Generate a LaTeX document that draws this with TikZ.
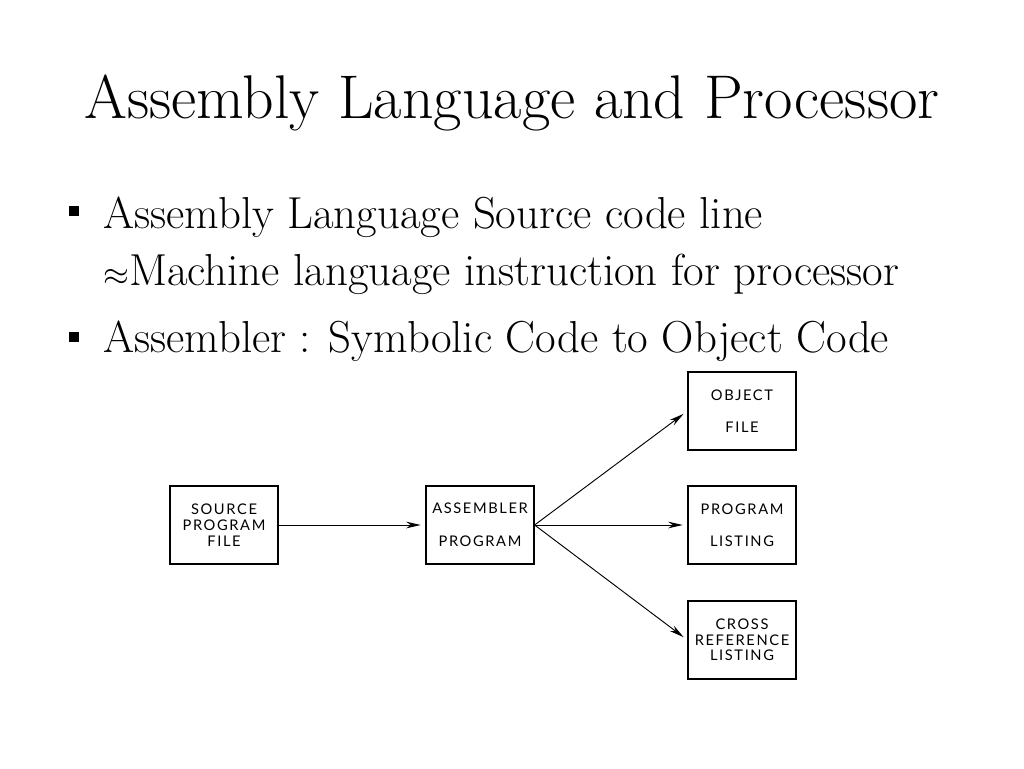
\documentclass[tikz,border=0pt]{standalone}
\usepackage{fontspec}
\usetikzlibrary{arrows.meta}
\newfontfamily\boxfont[LetterSpace=11]{Lato}
\begin{document}
\begin{tikzpicture}[x=0.75pt,y=-0.75pt,
  box/.style={draw,line width=0.9pt,minimum width=81pt,minimum height=58.5pt,inner sep=0pt,align=center,font=\boxfont\fontsize{11}{11.8}\selectfont},
  arr/.style={-{Stealth[length=11pt,width=5pt]},line width=0.7pt,shorten >=3.5pt},
  title/.style={font=\fontsize{46.3}{52}\selectfont,anchor=base},
  btext/.style={font=\fontsize{33.6}{38}\selectfont,anchor=base west,inner sep=0pt},
  bullet/.style={fill=black,minimum size=7.5pt,inner sep=0pt}]
\useasboundingbox (0,0) rectangle (1024,768);
\fill[white] (0,0) rectangle (1024,768);
\node[title] (t) at (512,118) {Assembly Language and Processor};
\node[bullet] (b1) at (74,211) {};
\node[btext] (l1) at (103,228) {Assembly Language Source code line};
\node[btext] (l2) at (103,285) {$\approx$Machine language instruction for processor};
\node[bullet] (b2) at (74,337) {};
\node[btext] (l3) at (103,352) {Assembler : Symbolic Code to Object Code};
\node[box] (src) at (224,525) {SOURCE\\PROGRAM\\FILE};
\node[box] (asm) at (480,525) {ASSEMBLER\\[13pt]PROGRAM};
\node[box] (obj) at (742,411) {OBJECT\\[12pt]FILE};
\node[box] (lst) at (742,525) {PROGRAM\\[12pt]LISTING};
\node[box] (crs) at (742,640) {CROSS\\REFERENCE\\LISTING};
\draw[arr] (src.east) -- (asm.west);
\draw[arr] (asm.east) -- (obj.west);
\draw[arr] (asm.east) -- (lst.west);
\draw[arr] (asm.east) -- (crs.west);
\end{tikzpicture}
\end{document}
